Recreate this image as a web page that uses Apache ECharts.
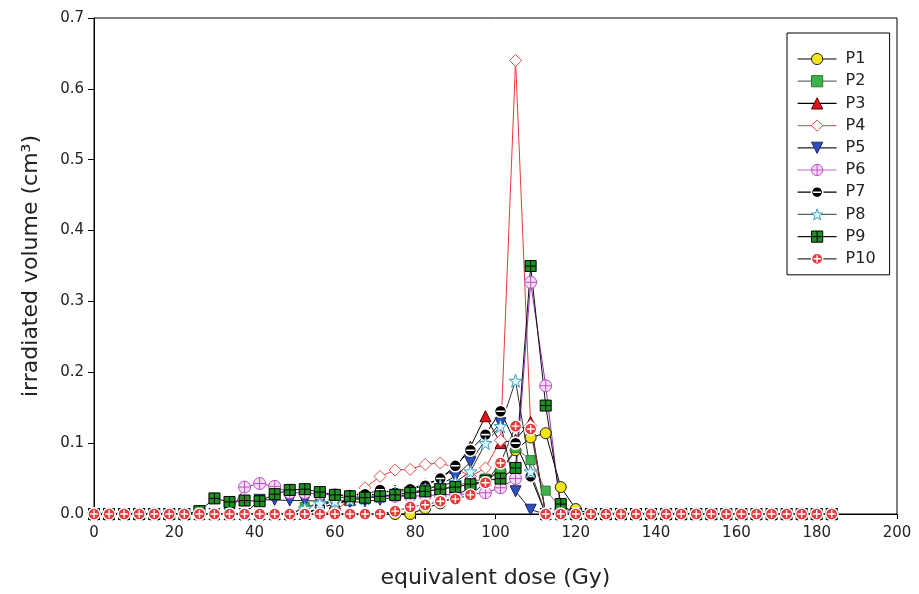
<!DOCTYPE html>
<html>
<head>
<meta charset="utf-8">
<script src="https://cdn.jsdelivr.net/npm/echarts@6/dist/echarts.min.js"></script>
<style>html,body{margin:0;padding:0;background:#fff;}#c{width:919px;height:594px;}</style>
</head>
<body>
<div id="c"></div>
<script>
// equivalent dose bins (Gy)
const dose = [0,3.75,7.5,11.25,15,18.75,22.5,26.25,30,33.75,37.5,41.25,45,48.75,52.5,56.25,60,63.75,67.5,71.25,75,78.75,82.5,86.25,90,93.75,97.5,101.25,105,108.75,112.5,116.25,120,123.75,127.5,131.25,135,138.75,142.5,146.25,150,153.75,157.5,161.25,165,168.75,172.5,176.25,180,183.75];
const seriesNames = ['P1','P2','P3','P4','P5','P6','P7','P8','P9','P10'];
const P1 = [0,0,0,0,0,0,0,0,0,0, 0,0,0,0,0,0,0,0,0,0, 0,0,0.008,0.015,0.025,0.038,0.048,0.06,0.09,0.108, 0.114,0.038,0.007,0,0,0,0,0,0,0, 0,0,0,0,0,0,0,0,0,0];
const P2 = [0,0,0,0,0,0,0,0,0,0, 0,0,0,0,0.01,0.015,0.018,0.02,0.022,0.025, 0.027,0.03,0.032,0.035,0.04,0.045,0.05,0.06,0.093,0.076, 0.033,0.01,0,0,0,0,0,0,0,0, 0,0,0,0,0,0,0,0,0,0];
const P3 = [0,0,0,0,0,0,0,0,0,0, 0,0,0,0,0,0.008,0.015,0.02,0.025,0.03, 0.033,0.036,0.042,0.05,0.065,0.095,0.138,0.1,0.105,0.13, 0,0,0,0,0,0,0,0,0,0, 0,0,0,0,0,0,0,0,0,0];
const P4 = [0,0,0,0,0,0,0,0,0,0, 0,0,0,0,0,0,0.005,0.02,0.037,0.053, 0.062,0.063,0.07,0.072,0.065,0.053,0.065,0.104,0.64,0.125, 0,0,0,0,0,0,0,0,0,0, 0,0,0,0,0,0,0,0,0,0];
const P5 = [0,0,0,0,0,0,0,0,0,0, 0,0.02,0.02,0.019,0.019,0.018,0.016,0.016,0.018,0.02, 0.024,0.028,0.034,0.042,0.053,0.073,0.105,0.128,0.032,0.006, 0,0,0,0,0,0,0,0,0,0, 0,0,0,0,0,0,0,0,0,0];
const P6 = [0,0,0,0,0,0,0,0,0,0, 0.038,0.043,0.039,0.03,0.03,0.028,0.027,0.027,0.026,0.025, 0.025,0.025,0.026,0.027,0.028,0.028,0.03,0.037,0.05,0.327, 0.181,0.005,0,0,0,0,0,0,0,0, 0,0,0,0,0,0,0,0,0,0];
const P7 = [0,0,0,0,0,0,0,0,0,0, 0,0,0,0,0,0.01,0.02,0.027,0.028,0.034, 0.03,0.035,0.04,0.05,0.068,0.09,0.112,0.145,0.1,0.053, 0,0,0,0,0,0,0,0,0,0, 0,0,0,0,0,0,0,0,0,0];
const P8 = [0,0,0,0,0,0,0,0,0,0, 0,0,0,0,0.008,0.015,0.018,0.02,0.022,0.025, 0.028,0.03,0.035,0.04,0.045,0.06,0.1,0.124,0.188,0.06, 0,0,0,0,0,0,0,0,0,0, 0,0,0,0,0,0,0,0,0,0];
const P9 = [0,0,0,0,0,0,0,0.004,0.022,0.017, 0.019,0.018,0.028,0.034,0.035,0.031,0.027,0.025,0.023,0.025, 0.027,0.03,0.032,0.035,0.038,0.042,0.047,0.05,0.065,0.35, 0.153,0.014,0,0,0,0,0,0,0,0, 0,0,0,0,0,0,0,0,0,0];
const P10 = [0,0,0,0,0,0,0,0,0,0, 0,0,0,0,0,0,0,0,0,0, 0.004,0.01,0.013,0.018,0.021,0.027,0.044,0.072,0.124,0.12, 0,0,0,0,0,0,0,0,0,0, 0,0,0,0,0,0,0,0,0,0];
const xTicks = [0,20,40,60,80,100,120,140,160,180,200];
const yTicks = [0,0.1,0.2,0.3,0.4,0.5,0.6,0.7];

const allValues = [P1,P2,P3,P4,P5,P6,P7,P8,P9,P10];

const CIRCLE = 'M0,-10 A10,10 0 1,1 0,10 A10,10 0 1,1 0,-10 Z';
const styles = [
  {symbol:'circle', size:11, fill:'#f4e41c', border:'#222', bw:1, line:'#000', legendLine:'#000'},
  {symbol:'rect', size:9, fill:'#3fb34a', border:'#2a7d2e', bw:1, line:'#6a6a6a', legendLine:'#6a6a6a'},
  {symbol:'path://M0,-10 L10,8 L-10,8 Z', size:11, fill:'#e2151b', border:'#5a0000', bw:1, line:'#000', legendLine:'#000'},
  {symbol:'diamond', size:12, fill:'#ffffff', border:'#e05050', bw:1, line:'#e83a3a', legendLine:'#d86a6a'},
  {symbol:'path://M-10,-8 L10,-8 L0,9 Z', size:11, fill:'#2f4fc0', border:'#1a2560', bw:1, line:'#222', legendLine:'#222'},
  {symbol:'path://' + CIRCLE + ' M-10,0 L10,0 M0,-10 L0,10', size:12, fill:'#f3ddf3', border:'#c04fc8', bw:1, line:'#9a2db8', legendLine:'#c070c8'},
  {symbol:'path://' + CIRCLE + ' M-7,0 L7,0', size:12, fill:'#000', border:'#ffffff', bw:1.6, line:'#000', legendLine:'#000'},
  {symbol:'path://M0,-10 L2.35,-3.24 L9.51,-3.09 L3.8,1.24 L5.88,8.09 L0,4 L-5.88,8.09 L-3.8,1.24 L-9.51,-3.09 L-2.35,-3.24 Z', size:13, fill:'#dff6fb', border:'#3a9fc0', bw:1, line:'#333', legendLine:'#4a6a6a'},
  {symbol:'path://M-10,-10 L10,-10 L10,10 L-10,10 Z M-10,0 L10,0 M0,-10 L0,10', size:11, fill:'#1f8f22', border:'#000', bw:1, line:'#111', legendLine:'#111'},
  {symbol:'path://' + CIRCLE + ' M-6.5,0 L6.5,0 M0,-6.5 L0,6.5', size:12, fill:'#e8383a', border:'#ffffff', bw:1.4, line:'#333', legendLine:'#333'}
];

const chart = echarts.init(document.getElementById('c'), null, {renderer:'canvas'});
const FONT = 'DejaVu Sans';

const series = seriesNames.map((name, k) => {
  const st = styles[k];
  return {
    name: name,
    type: 'line',
    data: dose.map((d, i) => [d, allValues[k][i]]),
    symbol: st.symbol,
    symbolSize: st.size,
    showAllSymbol: true,
    itemStyle: {color: st.fill, borderColor: st.border, borderWidth: st.bw, opacity: 1},
    lineStyle: {color: st.line, width: 1},
    emphasis: {disabled: true},
    animation: false
  };
});

chart.setOption({
  backgroundColor: '#fff',
  animation: false,
  grid: {left: 94, right: 22, top: 18, bottom: 78, show: true, borderColor: '#000', borderWidth: 1, backgroundColor: 'transparent'},
  legend: {
    data: seriesNames.map((n, k) => ({name: n, itemStyle: {color: styles[k].fill, borderColor: styles[k].border, borderWidth: styles[k].bw}, lineStyle: {color: styles[k].legendLine, width: 1.2}})),
    orient: 'vertical',
    left: 787, top: 33,
    padding: [18, 14, 8, 10],
    itemWidth: 39, itemHeight: 14, itemGap: 6.2,
    borderColor: '#000', borderWidth: 1,
    textStyle: {fontFamily: FONT, fontSize: 16, color: '#222', padding: [0, 0, 0, 4]},
    selectedMode: false
  },
  xAxis: {
    type: 'value', min: xTicks[0], max: xTicks[xTicks.length-1], interval: 20,
    name: 'equivalent dose (Gy)', nameLocation: 'middle', nameGap: 53,
    nameTextStyle: {fontFamily: FONT, fontSize: 22, color: '#222'},
    axisLine: {show: true, lineStyle: {color: '#000', width: 1}},
    axisTick: {show: true, inside: false, length: 5, lineStyle: {color: '#000'}},
    axisLabel: {fontFamily: FONT, fontSize: 15, color: '#222', margin: 12},
    splitLine: {show: false}
  },
  yAxis: {
    type: 'value', min: yTicks[0], max: yTicks[yTicks.length-1], interval: 0.1,
    name: 'irradiated volume (cm³)', nameLocation: 'middle', nameGap: 52,
    nameTextStyle: {fontFamily: FONT, fontSize: 22, color: '#222'},
    axisLine: {show: true, lineStyle: {color: '#000', width: 1}},
    axisTick: {show: true, inside: false, length: 6, lineStyle: {color: '#000'}},
    axisLabel: {fontFamily: FONT, fontSize: 15, color: '#222', margin: 10, formatter: v => v.toFixed(1)},
    splitLine: {show: false}
  },
  series: series
});
</script>
</body>
</html>
